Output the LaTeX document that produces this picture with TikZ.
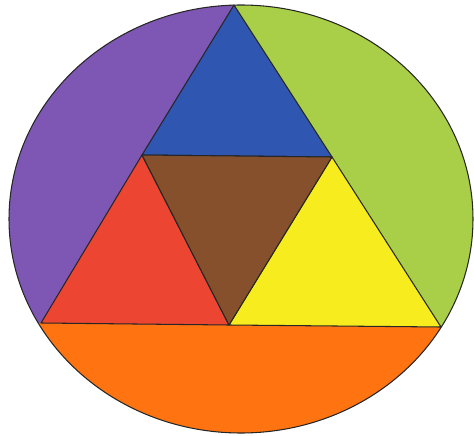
\documentclass[tikz,border=0pt]{standalone}
\usepackage{xcolor}
\usepackage{tikz}

\definecolor{violetseg}{HTML}{7E56B4}
\definecolor{greenseg}{HTML}{A9CF48}
\definecolor{orangeseg}{HTML}{FF7410}
\definecolor{bluetri}{HTML}{2F56B0}
\definecolor{redtri}{HTML}{EC4531}
\definecolor{yellowtri}{HTML}{F7EC1E}
\definecolor{browntri}{HTML}{87502C}

\begin{document}
\begin{tikzpicture}[
        x=0.02cm, y=-0.02cm,
        edge/.style={draw=black!85, line width=0.6pt, line join=round},
        part/.style={edge, fill=#1}
    ]
        \useasboundingbox (0,0) rectangle (474,436);
        % corners of the big triangle and the midpoints
        \coordinate (top) at (234,5);
        \coordinate (bl) at (41,323);
        \coordinate (br) at (441,327);
        \coordinate (ml) at (142,155);
        \coordinate (mr) at (332,157);
        \coordinate (mb) at (229,325);
        % circle segments
        \begin{scope}
            \clip (241,219) ellipse [x radius=232, y radius=214];
            \fill[violetseg] (top) -- (bl) -- (-20,322) -- (-20,-20) -- (234,-20) -- cycle;
            \fill[greenseg] (top) -- (br) -- (500,328) -- (500,-20) -- (234,-20) -- cycle;
            \fill[orangeseg] (-20,322) -- (bl) -- (br) -- (500,328) -- (500,460) -- (-20,460) -- cycle;
        \end{scope}
        \draw[edge] (241,219) ellipse [x radius=232, y radius=214];
        % the four triangles
        \draw[part=bluetri] (top) -- (mr) -- (ml) -- cycle;
        \draw[part=redtri] (ml) -- (mb) -- (bl) -- cycle;
        \draw[part=yellowtri] (mr) -- (br) -- (mb) -- cycle;
        \draw[part=browntri] (ml) -- (mr) -- (mb) -- cycle;
    \end{tikzpicture}
\end{document}
